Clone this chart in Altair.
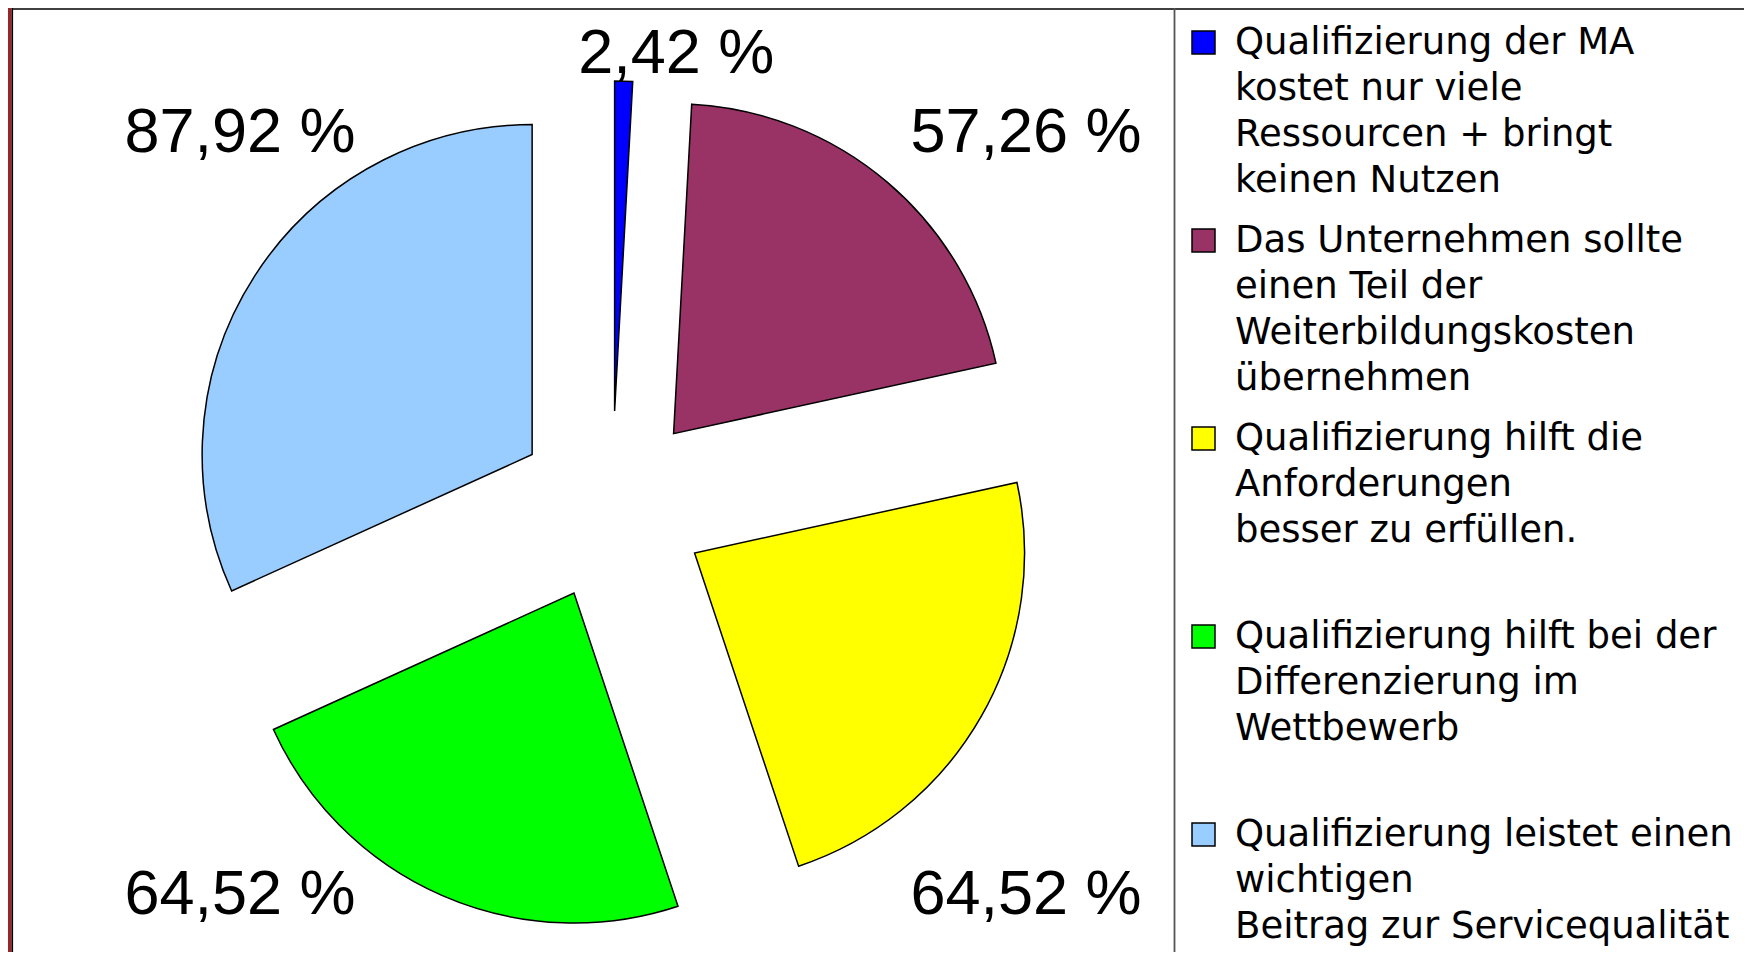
import altair as alt
import pandas as pd

# ---- data ----
categories = [
    "Qualifizierung der MA|kostet nur viele|Ressourcen + bringt|keinen Nutzen",
    "Das Unternehmen sollte|einen Teil der|Weiterbildungskosten|übernehmen",
    "Qualifizierung hilft die|Anforderungen|besser zu erfüllen.",
    "Qualifizierung hilft bei der|Differenzierung im|Wettbewerb",
    "Qualifizierung leistet einen|wichtigen|Beitrag zur Servicequalität",
]
values = [2.42, 57.26, 64.52, 64.52, 87.92]
colors = ["#0000FF", "#993366", "#FFFF00", "#00FF00", "#99CCFF"]

df = pd.DataFrame({"cat": categories, "value": values, "idx": list(range(len(values)))})

# ---- layout / style constants (chart pixel space) ----
W, H = 1736, 944
CX, CY = 604, 498      # pie centre
R = 330                # pie radius
D = 95                 # explode distance
# label placement rule: labels sit at the corners of a box around the pie
LCX, LCY, LX, LY, M, K = 625, 502, 393, 381, 89, 4

base = (
    alt.Chart(df)
    .transform_window(cum="sum(value)", sort=[alt.SortField("idx")], frame=[None, 0])
    .transform_joinaggregate(total="sum(value)")
    .transform_calculate(t0="2*PI*(datum.cum-datum.value)/datum.total")
    .transform_calculate(t1="2*PI*datum.cum/datum.total")
    .transform_calculate(mid="(datum.t0+datum.t1)/2")
    .transform_calculate(ax=f"{CX}+{D}*sin(datum.mid)")
    .transform_calculate(ay=f"{CY}-{D}*cos(datum.mid)")
    .transform_calculate(lx=f"{LCX}+{LX}*clamp({K}*sin(datum.mid),-1,1)")
    .transform_calculate(
        ly=f"{LCY}-({LY}+{M}*(1-clamp({K}*abs(sin(datum.mid)),0,1)))*clamp({K}*cos(datum.mid),-1,1)+4"
    )
    .transform_calculate(lab="replace(format(datum.value, '.2f'), '.', ',') + ' %'")
)

legend = alt.Legend(
    title=None,
    orient="none",
    legendX=1177,
    legendY=16,
    padding=0,
    symbolType="square",
    symbolSize=529,
    symbolStrokeColor="black",
    symbolStrokeWidth=1.5,
    symbolOpacity=1,
    labelFont="DejaVu Sans",
    labelFontSize=37,
    labelColor="black",
    labelLimit=700,
    labelOffset=13,
    labelExpr="split(datum.label, '|')",
    gridAlign="all",
    rowPadding=22,
)

arcs = base.mark_arc(radius=R, stroke="black", strokeWidth=1.5).encode(
    x=alt.X("ax:Q", scale=None, axis=None),
    y=alt.Y("ay:Q", scale=None, axis=None),
    theta=alt.Theta("t0:Q", scale=None),
    theta2=alt.Theta2("t1:Q"),
    color=alt.Color("cat:N", scale=alt.Scale(domain=categories, range=colors),
                    sort=categories, legend=legend),
)

labels = base.mark_text(
    font="Liberation Sans", fontSize=63, color="black", align="center", baseline="middle"
).encode(
    x=alt.X("lx:Q", scale=None, axis=None),
    y=alt.Y("ly:Q", scale=None, axis=None),
    text="lab:N",
)

dummy = alt.Chart(pd.DataFrame({"a": [0]}))
red_strip = dummy.mark_rect(color="#9B2424").encode(
    x=alt.value(0), x2=alt.value(3.5), y=alt.value(0), y2=alt.value(H)
)
left_line = dummy.mark_rule(color="black", strokeWidth=1.6).encode(
    x=alt.value(4.3), y=alt.value(0), y2=alt.value(H)
)
top_line = dummy.mark_rule(color="black", strokeWidth=1.6).encode(
    x=alt.value(4), x2=alt.value(W), y=alt.value(1)
)
divider = dummy.mark_rule(color="#555555", strokeWidth=1.8).encode(
    x=alt.value(1166.5), y=alt.value(0), y2=alt.value(H)
)

chart = (
    alt.layer(red_strip, left_line, top_line, divider, arcs, labels)
    .properties(width=W, height=H, autosize=alt.AutoSizeParams(type="none"), padding=0,
                background="white")
    .configure(style={"guide-label": {"lineHeight": 46}})
    .configure_view(strokeWidth=0)
)

chart.save("out.html", embed_options={"renderer": "svg", "actions": False})
